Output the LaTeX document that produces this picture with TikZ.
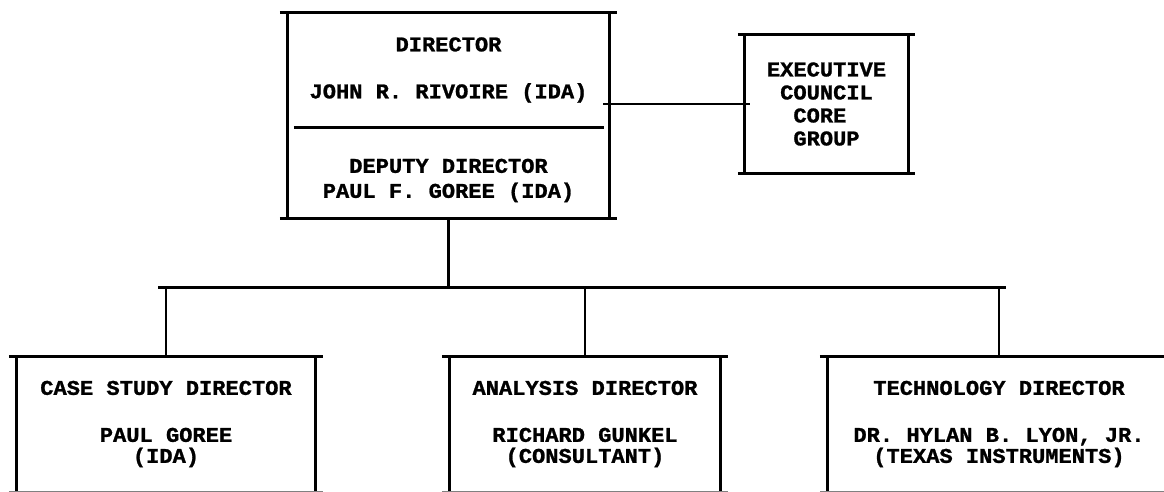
\documentclass[tikz,border=0pt]{standalone}
\usepackage{fontspec}
\newfontfamily\typew[FakeStretch=1.05,FakeBold=1.2]{Liberation Mono}
\newcommand\ch{\hphantom{X}}

\begin{document}
\begin{tikzpicture}[x=1pt, y=-1pt,
  box/.style={inner sep=0pt, align=center, font=\typew\bfseries\fontsize{21}{25}\selectfont},
  rule/.style={line width=3pt},
  link/.style={line width=2.8pt}]

\useasboundingbox (0,0) rectangle (1164,491);
\clip (0,0) rectangle (1164,491);

% Director and deputy
\node[box, minimum width=321pt, minimum height=114pt] (dir) at (448.5,70) {DIRECTOR\\[22pt]JOHN R. RIVOIRE (IDA)};
\node[box, minimum width=321pt, minimum height=91pt] (dep) at (448.5,172.5) {\rule{0pt}{30pt}DEPUTY DIRECTOR\\PAUL F. GOREE (IDA)};

\draw[rule] ([xshift=-8pt]dir.north west) -- ([xshift=8pt]dir.north east);
\draw[rule] ([xshift=-8pt]dep.south west) -- ([xshift=8pt]dep.south east);
\draw[rule] (dir.north west) -- (dep.south west);
\draw[rule] (dir.north east) -- (dep.south east);
\draw[rule] ([xshift=6pt]dir.south west) -- ([xshift=-5pt]dir.south east);

% Council
\node[box, align=left, font=\typew\bfseries\fontsize{21}{23}\selectfont, minimum width=163pt, minimum height=138pt] (exec) at (826.5,104) {EXECUTIVE\\\ch COUNCIL\\\ch\ch CORE\\\ch\ch GROUP};

\draw[rule] ([xshift=-7pt]exec.north west) -- ([xshift=7pt]exec.north east);
\draw[rule] ([xshift=-7pt]exec.south west) -- ([xshift=7pt]exec.south east);
\draw[rule] (exec.north west) -- (exec.south west);
\draw[rule] (exec.north east) -- (exec.south east);

\draw[link] ([xshift=5pt]exec.west) -- ([xshift=-6pt]exec.west -| dir.east);

% Three directors
\node[box, minimum width=298pt, minimum height=134pt] (case) at (166,424) {CASE STUDY DIRECTOR\\[22pt]PAUL GOREE\\[-4pt](IDA)};
\node[box, minimum width=270pt, minimum height=134pt] (anal) at (585,424) {ANALYSIS DIRECTOR\\[22pt]RICHARD GUNKEL\\[-4pt](CONSULTANT)};
\node[box, minimum width=342pt, minimum height=134pt] (tech) at (999,424) {TECHNOLOGY DIRECTOR\\[22pt]DR. HYLAN B. LYON, JR.\\[-4pt](TEXAS INSTRUMENTS)};

\foreach \b in {case, anal, tech} {
  \draw[rule] ([xshift=-8pt]\b.north west) -- ([xshift=8pt]\b.north east);
  \draw[rule] (\b.north west) -- (\b.south west);
  \draw[rule] (\b.north east) -- (\b.south east);
  \draw[gray, line width=1.4pt] ([xshift=-8pt]\b.south west) -- ([xshift=8pt]\b.south east);
}

% Stem and bus
\draw[link] (dep.south) -- ++(0,69) coordinate (bus);
\draw[link] ([xshift=-8pt]case.north |- bus) -- ([xshift=7pt]tech.north |- bus);
\foreach \b in {case, anal, tech}
  \draw[link] (\b.north) -- (\b.north |- bus);

\end{tikzpicture}
\end{document}
